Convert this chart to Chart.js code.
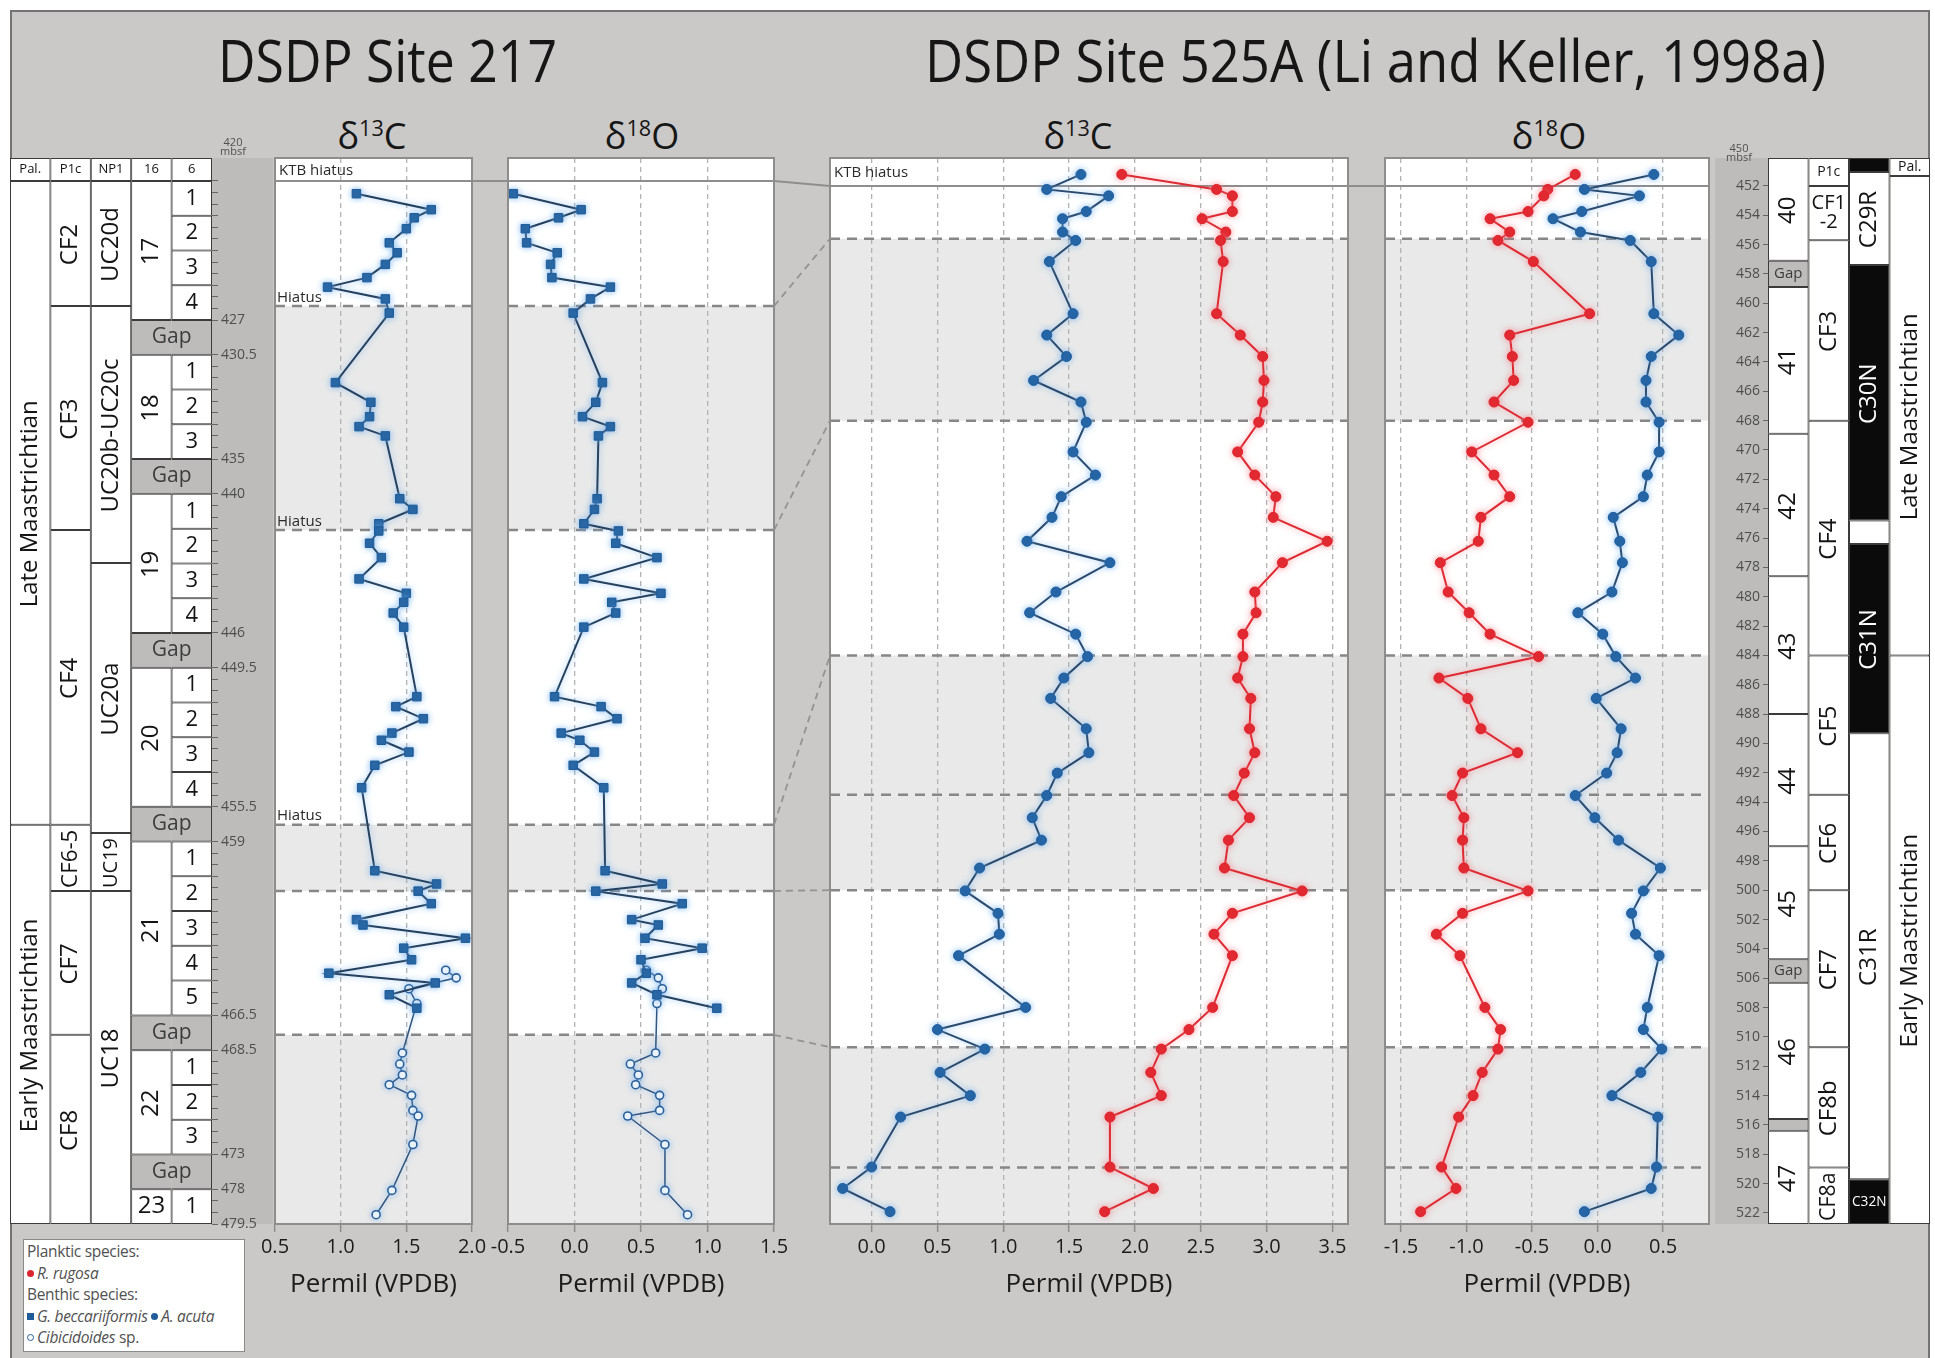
<!DOCTYPE html>
<html>
<head>
<meta charset="utf-8">
<script src="https://cdn.jsdelivr.net/npm/chart.js@4.4.1/dist/chart.umd.min.js"></script>
<style>
html,body{margin:0;padding:0;background:#fff;}
#fig{position:relative;width:1935px;height:1358px;overflow:hidden;background:#fff;font-family:"Open Sans","Noto Sans",sans-serif;}
#frame{position:absolute;left:10px;top:10px;width:1920px;height:1348px;box-sizing:border-box;background:#cbc9c8;border-left:2px solid #747474;border-top:2px solid #747474;border-right:2px solid #747474;}
canvas{position:absolute;top:0;}
.title,.sub{position:absolute;white-space:nowrap;color:#161616;line-height:1;transform-origin:0 0;}
.title{font-size:58px;top:31px;}
.sub{font-size:36px;top:118px;}
.sub sup{font-size:0.6em;position:relative;top:-0.62em;vertical-align:baseline;line-height:0;}
#legend{position:absolute;left:23px;top:1239px;width:222px;height:113px;box-sizing:border-box;background:#fff;border:1px solid #8a8a8a;font-size:15.5px;line-height:21.6px;color:#515151;padding:1px 0 0 3px;z-index:5;white-space:nowrap;overflow:hidden;letter-spacing:-0.3px;}
#legend i{font-style:italic;}
.sym{display:inline-block;width:7px;height:7px;margin-right:3px;vertical-align:2px;}
.dot{border-radius:50%;}
.ring{border-radius:50%;border:1.5px solid #2a5f99;width:5px;height:5px;background:#fff;}
</style>
</head>
<body>
<div id="fig">
  <div id="frame"></div>
  <div class="title" id="t217" data-left="218" data-w="339">DSDP Site 217</div>
  <div class="title" id="t525" data-left="925" data-w="901">DSDP Site 525A (Li and Keller, 1998a)</div>
  <div class="sub" data-cx="372">δ<sup>13</sup>C</div>
  <div class="sub" data-cx="642">δ<sup>18</sup>O</div>
  <div class="sub" data-cx="1078">δ<sup>13</sup>C</div>
  <div class="sub" data-cx="1549">δ<sup>18</sup>O</div>
  <div id="legend">
    <div>Planktic species:</div>
    <div><span class="sym dot" style="background:#d9262e"></span><i>R. rugosa</i></div>
    <div>Benthic species:</div>
    <div><span class="sym" style="background:#1f5c99"></span><i>G. beccariiformis</i> <span class="sym dot" style="background:#1f5c99"></span><i>A. acuta</i></div>
    <div><span class="sym ring"></span><i>Cibicidoides</i> sp.</div>
  </div>
</div>
<script>
// ======================= DATA =======================
// ---- DSDP Site 217 (depth in mbsf) : benthic G. beccariiformis ----
const depth217 = [421.55, 422.24, 422.59, 423.06, 423.67, 424.10, 424.60, 425.17, 425.58, 426.09, 426.70,
  431.70, 432.55, 433.17, 433.60, 434.00,
  440.21, 440.67, 441.29, 441.60, 442.13, 442.75, 443.67, 444.29, 444.68, 445.14, 445.75,
  450.75, 451.18, 451.70, 452.32, 452.63, 453.14, 453.71, 454.68,
  460.26, 460.83, 461.14, 461.68, 462.37, 462.60, 463.17, 463.60, 464.10, 464.68, 465.10, 465.61, 466.19];
const d13C217 = [1.12, 1.69, 1.56, 1.50, 1.37, 1.43, 1.34, 1.20, 0.90, 1.34, 1.37,
  0.96, 1.23, 1.22, 1.14, 1.34,
  1.45, 1.55, 1.29, 1.29, 1.22, 1.31, 1.14, 1.50, 1.48, 1.40, 1.48,
  1.58, 1.42, 1.63, 1.39, 1.31, 1.52, 1.26, 1.16,
  1.26, 1.73, 1.59, 1.69, 1.12, 1.17, 1.95, 1.48, 1.54, 0.91, 1.72, 1.37, 1.58];
const d18O217 = [-0.46, 0.05, -0.12, -0.37, -0.36, -0.13, -0.18, -0.17, 0.27, 0.12, -0.01,
  0.21, 0.16, 0.06, 0.27, 0.18,
  0.17, 0.15, 0.07, 0.33, 0.31, 0.62, 0.07, 0.65, 0.28, 0.31, 0.07,
  -0.15, 0.20, 0.32, -0.10, 0.04, 0.15, -0.01, 0.22,
  0.23, 0.66, 0.16, 0.81, 0.43, 0.63, 0.53, 0.96, 0.50, 0.54, 0.43, 0.62, 1.07];
// ---- Site 217 : benthic Cibicidoides sp. ----
const depth217Cib = [464.55, 464.88, 465.35, 465.99, 468.62, 469.10, 469.57, 469.99, 470.45, 471.10, 471.34, 472.57, 478.05, 479.10];
const d13C217Cib = [1.80, 1.88, 1.52, 1.58, 1.47, 1.45, 1.47, 1.37, 1.54, 1.55, 1.59, 1.55, 1.39, 1.27];
const d18O217Cib = [0.54, 0.63, 0.66, 0.62, 0.61, 0.42, 0.48, 0.46, 0.64, 0.64, 0.40, 0.68, 0.68, 0.85];

// ---- DSDP Site 525A (Li and Keller, 1998a) ----
const depth525 = [451.22, 452.24, 452.68, 453.75, 454.24, 455.15, 455.72, 457.16, 460.71, 462.17, 463.63, 465.26, 466.73,
  468.11, 470.13, 471.71, 473.18, 474.59, 476.22, 477.68, 479.68, 481.09, 482.55, 484.08, 485.54, 486.93,
  489.00, 490.63, 492.02, 493.55, 495.06, 496.59, 498.49, 500.05, 501.58, 503.00, 504.46, 507.99, 509.50,
  510.83, 512.42, 514.00, 515.46, 518.87, 520.33, 521.91];
// benthic A. acuta (blue)
const d13C525Benthic = [1.59, 1.33, 1.80, 1.63, 1.45, 1.45, 1.55, 1.35, 1.53, 1.33, 1.48, 1.23, 1.59,
  1.63, 1.53, 1.70, 1.44, 1.37, 1.18, 1.81, 1.40, 1.20, 1.55, 1.64, 1.46, 1.36,
  1.63, 1.65, 1.41, 1.33, 1.22, 1.29, 0.82, 0.71, 0.96, 0.97, 0.66, 1.17, 0.50,
  0.86, 0.52, 0.75, 0.22, 0.00, -0.22, 0.14];
const d18O525Benthic = [0.43, -0.10, 0.32, -0.12, -0.34, -0.13, 0.25, 0.41, 0.43, 0.62, 0.41, 0.37, 0.37,
  0.47, 0.47, 0.38, 0.35, 0.12, 0.17, 0.19, 0.11, -0.15, 0.04, 0.14, 0.29, -0.01,
  0.18, 0.15, 0.07, -0.17, -0.02, 0.16, 0.48, 0.35, 0.26, 0.29, 0.47, 0.38, 0.35,
  0.49, 0.33, 0.11, 0.46, 0.45, 0.41, -0.10];
// planktic R. rugosa (red)
const d13C525Planktic = [1.90, 2.62, 2.74, 2.74, 2.51, 2.69, 2.65, 2.67, 2.62, 2.80, 2.97, 2.98, 2.97,
  2.94, 2.78, 2.91, 3.07, 3.05, 3.46, 3.12, 2.91, 2.92, 2.82, 2.82, 2.78, 2.88,
  2.87, 2.91, 2.83, 2.75, 2.87, 2.71, 2.68, 3.27, 2.74, 2.60, 2.74, 2.59, 2.41,
  2.20, 2.12, 2.20, 1.81, 1.81, 2.14, 1.77];
const d18O525Planktic = [-0.17, -0.38, -0.41, -0.53, -0.82, -0.67, -0.76, -0.49, -0.06, -0.67, -0.65, -0.64, -0.79,
  -0.53, -0.96, -0.79, -0.67, -0.89, -0.91, -1.20, -1.14, -0.98, -0.82, -0.45, -1.21, -0.99,
  -0.89, -0.61, -1.03, -1.11, -1.02, -1.03, -1.02, -0.53, -1.03, -1.23, -1.05, -0.86, -0.74,
  -0.76, -0.88, -0.95, -1.06, -1.19, -1.08, -1.35];

// ---- axis tick labels ----
const xTicks217C = [0.5, 1.0, 1.5, 2.0];
const xTicks217O = [-0.5, 0.0, 0.5, 1.0, 1.5];
const xTicks525C = [0.0, 0.5, 1.0, 1.5, 2.0, 2.5, 3.0, 3.5];
const xTicks525O = [-1.5, -1.0, -0.5, 0.0, 0.5];
const depthLabels217 = [427, 430.5, 435, 440, 446, 449.5, 455.5, 459, 466.5, 468.5, 473, 478, 479.5];
const depthLabels525 = [452, 454, 456, 458, 460, 462, 464, 466, 468, 470, 472, 474, 476, 478, 480, 482, 484, 486,
  488, 490, 492, 494, 496, 498, 500, 502, 504, 506, 508, 510, 512, 514, 516, 518, 520, 522];

// ---- Site 217 stratigraphy ----
const coreHeader217 = '16', sectionHeader217 = '6';
const coreNames217 = ['17', '18', '19', '20', '21', '22', '23'];
const coreTops217 = [421, 430.5, 440, 449.5, 459, 468.5, 478];
const coreSections217 = [4, 3, 4, 4, 5, 3, 1];
const palUnits217 = ['Pal.', 'Late Maastrichtian', 'Early Maastrichtian'];
const palBounds217 = [420, 421, 457.3, 479.5];
const foramZones217 = ['P1c', 'CF2', 'CF3', 'CF4', 'CF6-5', 'CF7', 'CF8'];
const foramBounds217 = [420, 421, 426.4, 441.56, 457.3, 461.13, 467.62, 479.5];
const nannoZones217 = ['NP1', 'UC20d', 'UC20b-UC20c', 'UC20a', 'UC19', 'UC18'];
const nannoBounds217 = [420, 421, 426.4, 442.98, 458.15, 461.13, 479.5];
const ktbDepth217 = 421;
const hiatusDepths217 = [426.4, 441.56, 457.3];
const zoneLines217 = [461.13, 467.62];
const shaded217 = [[426.4, 441.56], [457.3, 461.13], [467.62, 479.5]];

// ---- Site 525A stratigraphy ----
const cores525 = ['40', 'Gap', '41', '42', '43', '44', '45', 'Gap', '46', '', '47'];
const coreBounds525 = [450.1, 457.1, 458.9, 468.9, 478.6, 488.0, 497.0, 504.7, 506.3, 515.6, 516.4, 522.75];
const zones525 = ['P1c', 'CF1-2', 'CF3', 'CF4', 'CF5', 'CF6', 'CF7', 'CF8b', 'CF8a'];
const zoneBounds525 = [450.1, 452, 455.7, 468, 484, 493.5, 500, 510.7, 518.9, 522.75];
const chrons525 = ['C29N', 'C29R', 'C30N', '', 'C31N', 'C31R', 'C32N'];
const polarity525 = ['N', 'R', 'N', 'R', 'N', 'R', 'N'];
const chronBounds525 = [450.1, 451.05, 457.4, 474.8, 476.4, 489.3, 519.7, 522.75];
const palUnits525 = ['Pal.', 'Late Maastrichtian', 'Early Maastrichtian'];
const palBounds525 = [450.1, 451.33, 484, 522.75];
const ktbDepth525 = 452;
const dashedDepths525 = [455.6, 468, 484, 493.5, 500, 510.7, 518.9];
const shaded525 = [[455.6, 468], [484, 500], [510.7, 522.75]];

// correlation ties (Site 217 depth -> Site 525A depth)
const tieDepths217 = [426.4, 441.56, 457.3, 461.13, 467.62];
const tieDepths525 = [455.6, 468, 484, 500, 510.7];

// ======================= LAYOUT / HELPERS =======================
const FONT = '"Open Sans", "Noto Sans", sans-serif';
const FIG_H = 1358, PLOT_TOP = 158, PLOT_BOTTOM = 1224, XAXIS_H = 76;
const SECTION_LEN = 1.5, HEADER_SLOT = 0.66;
const fig = document.getElementById('fig');

// broken (core-based) depth axis for Site 217: each section and each gap take one slot
const segments217 = (() => {
  const segs = [{d0: 420, d1: coreTops217[0], w: HEADER_SLOT}];
  coreTops217.forEach((top, i) => {
    const bot = top + coreSections217[i] * SECTION_LEN;
    segs.push({d0: top, d1: bot, w: coreSections217[i]});
    if (i < coreTops217.length - 1) segs.push({d0: bot, d1: coreTops217[i + 1], w: 1});
  });
  let c = 0; segs.forEach(s => { s.c = c; c += s.w; }); segs.total = c;
  return segs;
})();
function frac217(v) {
  const S = segments217;
  if (v <= S[0].d0) return 0;
  for (const s of S) if (v <= s.d1) return (s.c + (v - s.d0) / (s.d1 - s.d0) * s.w) / S.total;
  return 1;
}
function inv217(f) {
  const S = segments217, t = f * S.total;
  for (const s of S) if (t <= s.c + s.w) return s.d0 + (t - s.c) / s.w * (s.d1 - s.d0);
  return S[S.length - 1].d1;
}
class BrokenDepthScale extends Chart.LinearScale {
  getPixelForValue(v) { return this.top + frac217(v) * (this.bottom - this.top); }
  getValueForPixel(p) { return inv217((p - this.top) / (this.bottom - this.top)); }
}
BrokenDepthScale.id = 'brokenDepth';
BrokenDepthScale.defaults = Chart.LinearScale.defaults;
Chart.register(BrokenDepthScale);

// soft halo around the series (as in the original artwork)
Chart.register({
  id: 'halo',
  beforeDatasetDraw(chart, args) {
    const ds = chart.data.datasets[args.index];
    if (ds.halo) { chart.ctx.save(); chart.ctx.shadowColor = ds.halo; chart.ctx.shadowBlur = 6; }
  },
  afterDatasetDraw(chart, args) {
    const ds = chart.data.datasets[args.index];
    if (ds.halo) chart.ctx.restore();
  }
});

function makeCanvas(left, width) {
  const c = document.createElement('canvas');
  c.width = width; c.height = FIG_H;
  c.style.left = left + 'px'; c.style.width = width + 'px'; c.style.height = FIG_H + 'px';
  fig.appendChild(c);
  return c;
}
function baseOptions(padL, padR, scales, hasXAxis, pluginOpts) {
  return {
    responsive: false, animation: false, devicePixelRatio: 1, events: [],
    layout: {autoPadding: false, padding: {top: PLOT_TOP, bottom: FIG_H - PLOT_BOTTOM - (hasXAxis ? XAXIS_H : 0), left: padL, right: padR}},
    plugins: Object.assign({legend: {display: false}, tooltip: {enabled: false}}, pluginOpts || {}),
    scales
  };
}
function xAxis(min, max, ticks) {
  return {
    type: 'linear', position: 'bottom', min, max,
    afterBuildTicks: s => { s.ticks = ticks.map(v => ({value: v})); },
    afterFit: s => { s.height = XAXIS_H; },
    grid: {color: '#b3b3b3', lineWidth: 1.3, drawTicks: true, tickLength: 8, tickColor: '#8c8c8c', tickWidth: 1.5},
    border: {display: false, dash: [5, 4]},
    ticks: {color: '#1c1c1c', font: {family: FONT, size: 20}, padding: 3, autoSkip: false, maxRotation: 0, callback: v => Number(v).toFixed(1)},
    title: {display: true, text: 'Permil (VPDB)', color: '#1c1c1c', font: {family: FONT, size: 26}, padding: 0}
  };
}
const y217 = () => ({type: 'brokenDepth', display: false, min: 420, max: 479.5});
const y525 = () => ({type: 'linear', display: false, reverse: true, min: 450.1, max: 522.75});
const pts = (xs, ds) => xs.map((v, i) => ({x: v, y: ds[i]}));

function makeDeco(cfg) {
  return {
    id: 'deco',
    beforeDraw(chart) {
      const {ctx, chartArea: a} = chart, y = chart.scales.y;
      ctx.save();
      ctx.fillStyle = '#ffffff'; ctx.fillRect(a.left, a.top, a.width, a.height);
      ctx.fillStyle = '#e9e9e9';
      cfg.bands.forEach(([d0, d1]) => { const p0 = y.getPixelForValue(d0), p1 = y.getPixelForValue(d1); ctx.fillRect(a.left, p0, a.width, p1 - p0); });
      ctx.restore();
    },
    beforeDatasetsDraw(chart) {
      const {ctx, chartArea: a} = chart, y = chart.scales.y;
      ctx.save();
      ctx.strokeStyle = '#878787'; ctx.lineWidth = 2.5; ctx.setLineDash([10, 7]);
      cfg.dashed.forEach(d => { const p = y.getPixelForValue(d); ctx.beginPath(); ctx.moveTo(a.left, p); ctx.lineTo(a.right, p); ctx.stroke(); });
      ctx.setLineDash([]); ctx.strokeStyle = '#8e8e8e'; ctx.lineWidth = 2;
      const pk = y.getPixelForValue(cfg.ktb);
      ctx.beginPath(); ctx.moveTo(a.left - (cfg.extendLeft || 0), pk); ctx.lineTo(a.right, pk); ctx.stroke();
      ctx.fillStyle = '#2a2a2a'; ctx.font = '15px ' + FONT; ctx.textAlign = 'left';
      if (cfg.ktbLabel) { ctx.textBaseline = 'middle'; ctx.fillText('KTB hiatus', a.left + 4, (a.top + pk) / 2 + 1); }
      (cfg.hiatus || []).forEach(d => { ctx.textBaseline = 'bottom'; ctx.fillText('Hiatus', a.left + 2, y.getPixelForValue(d) - 1); });
      ctx.restore();
    },
    afterDraw(chart) {
      const {ctx, chartArea: a} = chart;
      ctx.save(); ctx.strokeStyle = '#8d8d8d'; ctx.lineWidth = 2; ctx.strokeRect(a.left, a.top, a.width, a.height); ctx.restore();
    }
  };
}
function dataChart(left, width, padL, padR, yCfg, xMin, xMax, xTicks, datasets, deco) {
  return new Chart(makeCanvas(left, width), {
    type: 'scatter',
    data: {datasets},
    options: baseOptions(padL, padR, {x: xAxis(xMin, xMax, xTicks), y: yCfg}, true),
    plugins: [makeDeco(deco)]
  });
}
const beccStyle = {showLine: true, borderColor: '#25415f', borderWidth: 2, pointStyle: 'rect', pointRadius: 6,
  pointBackgroundColor: '#1f5c99', pointBorderColor: '#1f5c99', pointBorderWidth: 1, halo: 'rgba(110,175,240,0.75)'};
const cibStyle = {showLine: true, borderColor: '#30557f', borderWidth: 1.5, pointStyle: 'circle', pointRadius: 4,
  pointBackgroundColor: '#ffffff', pointBorderColor: '#2a5f99', pointBorderWidth: 1.6, halo: 'rgba(110,175,240,0.6)'};
const acutaStyle = {showLine: true, borderColor: '#2a4a6e', borderWidth: 2, pointStyle: 'circle', pointRadius: 5,
  pointBackgroundColor: '#1f5e9e', pointBorderColor: '#1f5e9e', pointBorderWidth: 1, halo: 'rgba(110,175,240,0.75)'};
const rugosaStyle = {showLine: true, borderColor: '#de2a32', borderWidth: 2, pointStyle: 'circle', pointRadius: 5,
  pointBackgroundColor: '#e0222a', pointBorderColor: '#e0222a', pointBorderWidth: 1, halo: 'rgba(245,120,130,0.7)'};

// ======================= STRATIGRAPHIC COLUMNS (floating bars) =======================
function intervals(col, labels, bounds, extra) {
  return labels.map((lab, i) => Object.assign({x: col, y: [bounds[i], bounds[i + 1]], label: lab, hdr: i === 0}, extra ? extra(i, lab) : {}));
}
const strat217Cols = ['pal', 'foram', 'nanno', 'core', 'sec'];
const strat217Items = [].concat(
  intervals('pal', palUnits217, palBounds217),
  intervals('foram', foramZones217, foramBounds217),
  intervals('nanno', nannoZones217, nannoBounds217)
);
strat217Items.push({x: 'core', y: [420, coreTops217[0]], label: coreHeader217, hdr: true});
strat217Items.push({x: 'sec', y: [420, coreTops217[0]], label: sectionHeader217, hdr: true});
coreTops217.forEach((top, i) => {
  const n = coreSections217[i], bot = top + n * SECTION_LEN;
  strat217Items.push({x: 'core', y: [top, bot], label: coreNames217[i]});
  for (let k = 0; k < n; k++) strat217Items.push({x: 'sec', y: [top + k * SECTION_LEN, top + (k + 1) * SECTION_LEN], label: String(k + 1)});
  if (i < coreTops217.length - 1) {
    strat217Items.push({x: 'core', y: [bot, coreTops217[i + 1]], label: 'Gap', kind: 'gap', skip: 'right', span2: true});
    strat217Items.push({x: 'sec', y: [bot, coreTops217[i + 1]], label: '', kind: 'gap', skip: 'left'});
  }
});
const depthTicks217 = [];
coreTops217.forEach((top, i) => { for (let d = top; d <= top + coreSections217[i] * SECTION_LEN + 1e-9; d += 0.5) depthTicks217.push(d); });

const strat525Cols = ['core', 'zone', 'chron', 'pal'];
const strat525Items = [].concat(
  intervals('core', cores525, coreBounds525, (i, lab) => ({hdr: false, kind: (lab === 'Gap' || lab === '') ? 'gap' : undefined})),
  intervals('zone', zones525, zoneBounds525),
  intervals('chron', chrons525, chronBounds525, i => ({hdr: false, kind: polarity525[i]})),
  intervals('pal', palUnits525, palBounds525)
);

const stratText = {
  id: 'stratText',
  afterDatasetsDraw(chart, args, opts) {
    const ctx = chart.ctx, items = chart.data.datasets[0].data, meta = chart.getDatasetMeta(0);
    ctx.save(); ctx.textAlign = 'center'; ctx.textBaseline = 'middle';
    meta.data.forEach((el, i) => {
      const it = items[i]; if (!it.label) return;
      const p = el.getProps(['x', 'y', 'base', 'width'], true);
      const top = Math.min(p.y, p.base), bot = Math.max(p.y, p.base), h = bot - top;
      let w = p.width, cx = p.x; if (it.span2) { cx = p.x + w / 2; w = w * 2; }
      const cy = (top + bot) / 2;
      if (h < 20 && !it.hdr) return;
      const upright = it.hdr || it.kind === 'gap' || it.x === 'sec' || h < 55;
      const base = it.hdr ? opts.hdrSize : it.kind === 'gap' ? opts.gapSize : (it.x === 'sec' ? opts.secSize : opts.size);
      ctx.fillStyle = it.kind === 'N' ? '#ffffff' : it.kind === 'gap' ? '#3c3c3c' : '#141414';
      if (upright) {
        let size = Math.min(base, h * 0.85), lines = [it.label];
        ctx.font = size + 'px ' + FONT;
        let tw = ctx.measureText(it.label).width;
        if (tw > w - 6 && it.label.indexOf('-') > 0) {
          const k = it.label.indexOf('-'); lines = [it.label.slice(0, k), it.label.slice(k)];
          size = Math.min(size, h * 0.42); ctx.font = size + 'px ' + FONT;
          tw = Math.max(...lines.map(l => ctx.measureText(l).width));
        }
        if (tw > w - 6) size *= (w - 6) / tw;
        ctx.font = size + 'px ' + FONT;
        lines.forEach((ln, k) => ctx.fillText(ln, cx, cy + (k - (lines.length - 1) / 2) * size * 0.95));
      } else {
        let size = Math.min(base, (w - 8) / 0.74);
        ctx.font = size + 'px ' + FONT;
        const tw = ctx.measureText(it.label).width;
        if (tw > h - 8) size *= (h - 8) / tw;
        ctx.font = size + 'px ' + FONT;
        ctx.save(); ctx.translate(cx, cy + 1); ctx.rotate(-Math.PI / 2); ctx.fillText(it.label, 0, 0); ctx.restore();
      }
    });
    // "mbsf" note above the depth strip
    const ys = chart.scales.y, y0 = ys.getPixelForValue(ys.min);
    ctx.fillStyle = '#505050'; ctx.font = '11px ' + FONT;
    const tx = ys.left + opts.unitDx;
    ctx.fillText(String(opts.unitValue), tx, y0 + opts.unitDy);
    ctx.fillText('mbsf', tx, y0 + opts.unitDy + 9);
    ctx.restore();
  }
};
function stratChart(left, width, cols, items, yCfg, pluginOpts) {
  return new Chart(makeCanvas(left, width), {
    type: 'bar',
    data: {labels: cols, datasets: [{
      data: items,
      backgroundColor: c => c.raw.kind === 'gap' ? '#bdbcbb' : c.raw.kind === 'N' ? '#0b0b0b' : '#ffffff',
      borderColor: '#3b3b3b', borderWidth: 1,
      borderSkipped: c => c.raw.skip || false,
      barPercentage: 1, categoryPercentage: 1, inflateAmount: 0
    }]},
    options: baseOptions(0, 0, {x: {display: false}, y: yCfg}, false, {stratText: pluginOpts}),
    plugins: [stratText]
  });
}

// ======================= BUILD =======================
// Site 217 stratigraphy (depth strip on the right)
stratChart(10, 263, strat217Cols, strat217Items, {
  type: 'brokenDepth', position: 'right', min: 420, max: 479.5, backgroundColor: '#bdbcbb',
  afterBuildTicks: s => { s.ticks = depthTicks217.map(v => ({value: v})); },
  afterFit: s => { s.width = 61; },
  grid: {drawOnChartArea: false, drawTicks: true, tickLength: 6, tickColor: '#666', tickWidth: 1},
  border: {display: false},
  ticks: {autoSkip: false, padding: 3, color: '#4e4e4e', font: {family: FONT, size: 14}, callback: v => depthLabels217.includes(v) ? String(v) : ''}
}, {size: 24, secSize: 22, hdrSize: 13, gapSize: 21, unitValue: 420, unitDx: 21, unitDy: -15});

// Site 217 delta13C
dataChart(250, 242, 25, 20, y217(), 0.5, 2.0, xTicks217C, [
  Object.assign({label: 'G. beccariiformis', data: pts(d13C217, depth217)}, beccStyle),
  Object.assign({label: 'Cibicidoides sp.', data: pts(d13C217Cib, depth217Cib)}, cibStyle)
], {bands: shaded217, dashed: hiatusDepths217.concat(zoneLines217), ktb: ktbDepth217, ktbLabel: true, hiatus: hiatusDepths217});

// Site 217 delta18O
dataChart(468, 326, 40, 20, y217(), -0.5, 1.5, xTicks217O, [
  Object.assign({label: 'G. beccariiformis', data: pts(d18O217, depth217)}, beccStyle),
  Object.assign({label: 'Cibicidoides sp.', data: pts(d18O217Cib, depth217Cib)}, cibStyle)
], {bands: shaded217, dashed: hiatusDepths217.concat(zoneLines217), ktb: ktbDepth217, extendLeft: 36});

// correlation lines between the two sites
new Chart(makeCanvas(774, 56), {
  type: 'scatter',
  data: {datasets: []},
  options: baseOptions(0, 0, {
    x: {type: 'linear', display: false, min: 0, max: 1},
    yL: {type: 'brokenDepth', display: false, min: 420, max: 479.5},
    yR: {type: 'linear', display: false, reverse: true, min: 450.1, max: 522.75}
  }, false),
  plugins: [{
    id: 'ties',
    afterDraw(chart) {
      const {ctx, chartArea: a} = chart, yL = chart.scales.yL, yR = chart.scales.yR;
      ctx.save();
      ctx.strokeStyle = '#8e8e8e'; ctx.lineWidth = 2;
      ctx.beginPath(); ctx.moveTo(a.left, yL.getPixelForValue(ktbDepth217)); ctx.lineTo(a.right, yR.getPixelForValue(ktbDepth525)); ctx.stroke();
      ctx.strokeStyle = '#939393'; ctx.lineWidth = 1.8; ctx.setLineDash([7, 5]);
      tieDepths217.forEach((d, i) => { ctx.beginPath(); ctx.moveTo(a.left, yL.getPixelForValue(d)); ctx.lineTo(a.right, yR.getPixelForValue(tieDepths525[i])); ctx.stroke(); });
      ctx.restore();
    }
  }]
});

// Site 525A delta13C
dataChart(810, 559, 20, 21, y525(), -0.316, 3.618, xTicks525C, [
  Object.assign({label: 'A. acuta', data: pts(d13C525Benthic, depth525)}, acutaStyle),
  Object.assign({label: 'R. rugosa', data: pts(d13C525Planktic, depth525)}, rugosaStyle)
], {bands: shaded525, dashed: dashedDepths525, ktb: ktbDepth525, ktbLabel: true});

// Site 525A delta18O
dataChart(1340, 375, 45, 6, y525(), -1.622, 0.851, xTicks525O, [
  Object.assign({label: 'R. rugosa', data: pts(d18O525Planktic, depth525)}, rugosaStyle),
  Object.assign({label: 'A. acuta', data: pts(d18O525Benthic, depth525)}, acutaStyle)
], {bands: shaded525, dashed: dashedDepths525, ktb: ktbDepth525, extendLeft: 37});

// Site 525A stratigraphy (depth strip on the left)
stratChart(1715, 215, strat525Cols, strat525Items, {
  type: 'linear', position: 'left', reverse: true, min: 450.1, max: 522.75, backgroundColor: '#bdbcbb',
  afterBuildTicks: s => { s.ticks = depthLabels525.map(v => ({value: v})); },
  afterFit: s => { s.width = 53; },
  grid: {drawOnChartArea: false, drawTicks: true, tickLength: 5, tickColor: '#666', tickWidth: 1},
  border: {display: false},
  ticks: {autoSkip: false, padding: 3, color: '#4e4e4e', font: {family: FONT, size: 14}, callback: v => String(v)}
}, {size: 24, secSize: 22, hdrSize: 14, gapSize: 15, unitValue: 450, unitDx: 24, unitDy: -9});

// ======================= TEXT PLACEMENT =======================
function placeTexts() {
  document.querySelectorAll('.title').forEach(el => {
    el.style.left = el.dataset.left + 'px';
    el.style.transform = 'none';
    const w = el.getBoundingClientRect().width;
    el.style.transform = 'scaleX(' + (Number(el.dataset.w) / w) + ')';
  });
  document.querySelectorAll('.sub').forEach(el => {
    const w = el.getBoundingClientRect().width;
    el.style.left = (Number(el.dataset.cx) - w / 2) + 'px';
  });
}
placeTexts();
if (document.fonts && document.fonts.ready) document.fonts.ready.then(placeTexts);
</script>
</body>
</html>
